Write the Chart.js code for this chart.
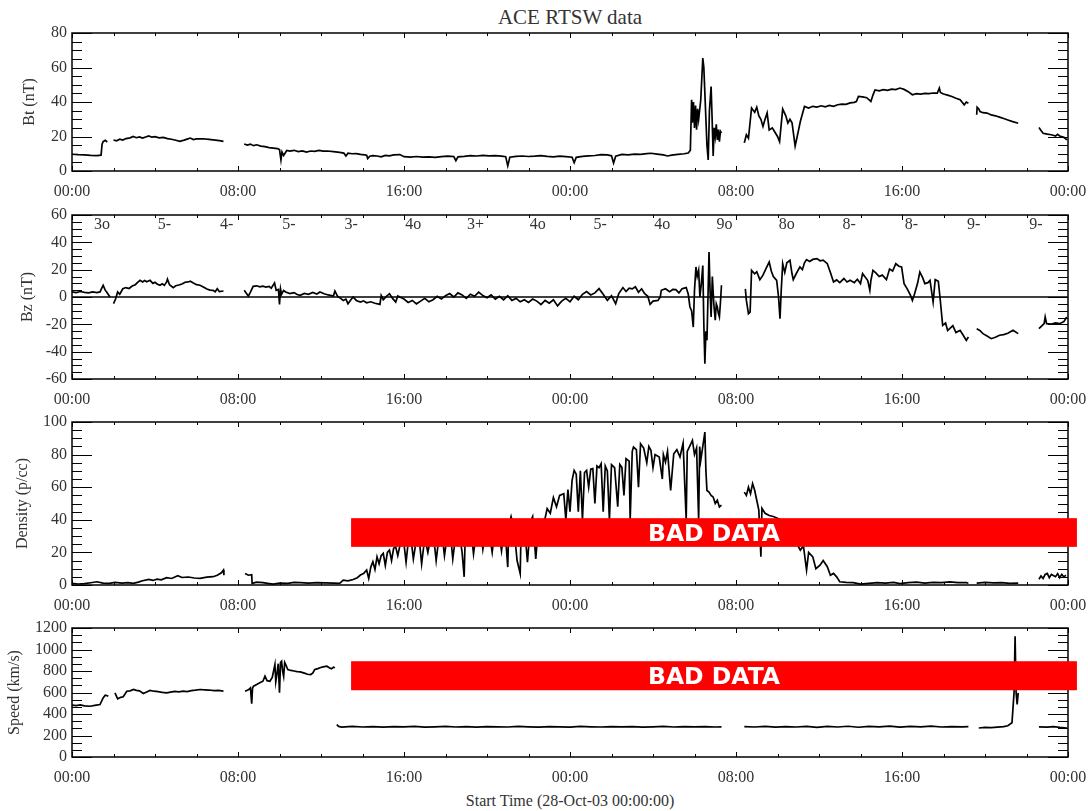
<!DOCTYPE html>
<html>
<head>
<meta charset="utf-8">
<title>ACE RTSW data</title>
<script src="https://cdn.jsdelivr.net/npm/chart.js@4.4.0/dist/chart.umd.min.js"></script>
<style>
  body { margin: 0; background: #fff; }
  #wrap { position: relative; width: 1088px; height: 811px; overflow: hidden; font-family: "Liberation Serif", serif; color: #333; }
  #wrap canvas { position: absolute; left: 0; }
  .txt { position: absolute; left: 370px; width: 400px; text-align: center; white-space: nowrap; }
  #title { top: 7px; font-size: 21px; line-height: 21px; }
  #xlab { top: 793px; font-size: 16px; line-height: 16px; }
</style>
</head>
<body>
<div id="wrap">
  <div class="txt" id="title">ACE RTSW data</div>
  <canvas id="bt" width="1088" height="205" style="top:0px"></canvas>
  <canvas id="bz" width="1088" height="205" style="top:205px"></canvas>
  <canvas id="den" width="1088" height="205" style="top:410px"></canvas>
  <canvas id="spd" width="1088" height="175" style="top:615px"></canvas>
  <div class="txt" id="xlab">Start Time (28-Oct-03 00:00:00)</div>
</div>
<script>
// x axis: hours since 28-Oct-03 00:00
var xTickHours = [0, 8, 16, 24, 32, 40, 48];
var xTickLabels = ['00:00', '08:00', '16:00', '00:00', '08:00', '16:00', '00:00'];

var btTicks = [0, 20, 40, 60, 80];
var bzTicks = [-60, -40, -20, 0, 20, 40, 60];
var denTicks = [0, 20, 40, 60, 80, 100];
var spdTicks = [0, 200, 400, 600, 800, 1000, 1200];

// Kp index, one per 3 hour interval
var kpLabels = ['3o', '5-', '4-', '5-', '3-', '4o', '3+', '4o', '5-', '4o', '9o', '8o', '8-', '8-', '9-', '9-'];

// Bt (nT)
var btHours = [
  0, 0.3, 0.6, 0.9, 1.2, 1.4, 1.45, 1.5, 1.6, 1.7,
  1.85, 2.0, 2.15, 2.3, 2.45, 2.6, 2.8, 2.95, 3.1, 3.25,
  3.4, 3.55, 3.7, 3.85, 4.0, 4.2, 4.4, 4.6, 4.8, 5.0,
  5.2, 5.4, 5.55, 5.7, 5.85, 6.0, 6.3, 6.6, 6.9, 7.1,
  7.3, 7.35, 8.3, 8.45, 8.6, 8.75, 8.9, 9.1, 9.3, 9.5,
  9.7, 9.9, 10.0, 10.07, 10.12, 10.2, 10.35, 10.5, 10.7, 10.9,
  11.1, 11.3, 11.5, 11.7, 11.9, 12.1, 12.3, 12.6, 12.9, 13.1,
  13.2, 13.3, 13.5, 13.7, 13.9, 14.1, 14.2, 14.25, 14.35, 14.5,
  14.7, 14.9, 15.1, 15.3, 15.5, 15.8, 16.0, 16.3, 16.6, 16.9,
  17.2, 17.5, 17.8, 18.1, 18.4, 18.5, 18.6, 18.9, 19.2, 19.5,
  19.8, 20.1, 20.4, 20.7, 20.9, 21.0, 21.1, 21.4, 21.7, 22.0,
  22.3, 22.6, 22.9, 23.2, 23.5, 23.8, 24.1, 24.2, 24.3, 24.6,
  24.9, 25.2, 25.5, 25.8, 26.0, 26.1, 26.2, 26.5, 26.8, 27.1,
  27.4, 27.7, 27.9, 28.2, 28.5, 28.7, 28.9, 29.2, 29.5, 29.7,
  29.8, 29.86, 29.9, 29.95, 30.0, 30.05, 30.1, 30.15, 30.2, 30.3,
  30.4, 30.45, 30.5, 30.55, 30.6, 30.66, 30.72, 30.8, 30.85, 30.9,
  30.95, 31.0, 31.05, 31.1, 31.15, 31.2, 31.25, 31.3, 31.32, 32.4,
  32.5, 32.6, 32.75, 32.9, 33.0, 33.1, 33.2, 33.3, 33.4, 33.5,
  33.6, 33.75, 33.9, 34.0, 34.1, 34.25, 34.4, 34.5, 34.6, 34.7,
  34.85, 34.95, 35.1, 35.3, 35.5, 35.7, 35.9, 36.1, 36.3, 36.5,
  36.7, 36.9, 37.1, 37.3, 37.5, 37.7, 37.8, 37.9, 38.1, 38.3,
  38.5, 38.6, 38.7, 38.9, 39.1, 39.3, 39.5, 39.7, 39.9, 40.1,
  40.3, 40.5, 40.7, 40.9, 41.1, 41.3, 41.5, 41.7, 41.8, 41.85,
  42.0, 42.2, 42.4, 42.6, 42.8, 43.0, 43.1, 43.2, 43.25, 43.6,
  43.62, 43.7, 43.76, 43.9, 44.1, 44.3, 44.5, 44.7, 44.9, 45.1,
  45.3, 45.6, 45.65, 46.6, 46.7, 46.8, 47.0, 47.2, 47.4, 47.5,
  47.6, 47.8, 47.95
];
var btValues = [
  9.7, 9.5, 9.4, 9.1, 8.9, 9.2, 15.5, 17.0, 17.8, 16.8,
  null, 18.0, 17.5, 18.4, 17.9, 18.8, 19.2, 20.0, 19.3, 19.8,
  19.1, 19.7, 20.3, 19.6, 19.9, 19.2, 19.5, 18.8, 18.4, 17.8,
  17.2, 17.9, 18.5, 19.1, 18.2, 18.6, 18.7, 18.3, 17.9, 17.6,
  17.2, null, 15.7, 15.0, 15.6, 14.7, 15.2, 14.4, 14.1, 13.6,
  13.3, 13.0, 12.4, 6.4, 11.0, 9.0, 11.9, 11.5, 12.0, 11.3,
  11.7, 11.0, 11.6, 11.4, 11.9, 11.5, 11.6, 11.2, 10.8, 10.4,
  8.7, 10.3, 10.0, 10.1, 9.6, 9.4, 9.1, 7.2, 8.6, 8.9,
  8.7, 8.2, 9.0, 8.8, 9.3, 9.5, 8.3, 8.0, 8.4, 8.1,
  8.2, 7.9, 8.3, 8.6, 8.4, 6.0, 8.2, 8.5, 8.9, 8.7,
  9.1, 8.8, 8.9, 8.6, 8.3, 3.0, 8.0, 8.5, 8.7, 8.4,
  8.6, 8.9, 8.5, 8.2, 8.6, 8.3, 8.0, 4.8, 7.9, 8.5,
  8.8, 9.0, 9.5, 9.3, 8.8, 4.6, 8.6, 9.6, 9.4, 9.8,
  9.6, 10.1, 10.3, 9.8, 9.3, 8.7, 9.2, 9.6, 10.0, 10.4,
  12.0, 41.3, 28, 40, 25, 38, 24, 36, 30, 41,
  65.5, 60, 45, 30, 15, 6.4, 35, 49, 30, 8.7,
  25, 20, 27, 18, 24, 17, 23, 22, null, 16.3,
  21, 19, 36.5, 34, 37.0, 32, 30, 25.8, 30, 33.7,
  23.8, 25, 22, 20, 17, 35.9, 32, 27.8, 30, 28,
  14.5, 20, 28.7, 37.4, 36.5, 37.5, 37.0, 37.8, 37.2, 38.0,
  37.5, 38.4, 38.8, 38.6, 39.5, 39.8, 40.3, 43.2, 43.0, 42.5,
  40.3, 44, 47.0, 46.5, 47.2, 46.8, 47.5, 47.2, 48.1, 47.3,
  46.0, 44.2, 44.8, 44.6, 45.0, 44.9, 45.2, 45.1, 48.1, 45.5,
  44.6, 44.0, 43.2, 42.2, 41.3, 38.4, 40.0, 39.3, null, 32.6,
  37, 36, 34.5, 33.8, 33.6, 32.5, 32.0, 31.2, 30.4, 29.6,
  28.8, 27.7, null, 25.2, 23.5, 21.9, 21.4, 21.0, 20.3, 21.3,
  20.3, 19.5, 18.0
];

// Bz (nT)
var bzHours = [
  0, 0.2, 0.4, 0.6, 0.8, 1.0, 1.2, 1.35, 1.5, 1.6,
  1.67, 1.83, 1.9, 2.0, 2.1, 2.2, 2.3, 2.45, 2.6, 2.75,
  2.9, 3.05, 3.15, 3.28, 3.4, 3.5, 3.6, 3.76, 3.9, 4.0,
  4.1, 4.24, 4.35, 4.45, 4.56, 4.6, 4.7, 4.88, 5.0, 5.15,
  5.3, 5.45, 5.6, 5.7, 5.85, 6.0, 6.17, 6.35, 6.5, 6.65,
  6.8, 6.9, 7.0, 7.1, 7.3, 7.35, 8.3, 8.4, 8.5, 8.6,
  8.73, 8.9, 9.05, 9.2, 9.35, 9.5, 9.6, 9.76, 9.84, 9.95,
  10.0, 10.05, 10.1, 10.2, 10.3, 10.5, 10.7, 10.85, 11.0, 11.2,
  11.4, 11.6, 11.8, 11.95, 12.15, 12.35, 12.6, 12.67, 12.8, 12.95,
  13.07, 13.2, 13.3, 13.45, 13.55, 13.7, 13.9, 14.05, 14.2, 14.4,
  14.6, 14.84, 14.9, 15.0, 15.15, 15.3, 15.45, 15.6, 15.7, 15.8,
  16.0, 16.2, 16.4, 16.6, 16.8, 17.0, 17.2, 17.4, 17.6, 17.8,
  18.0, 18.2, 18.4, 18.6, 18.8, 19.0, 19.2, 19.4, 19.6, 19.8,
  20.0, 20.2, 20.4, 20.6, 20.8, 21.0, 21.2, 21.4, 21.6, 21.8,
  22.0, 22.2, 22.4, 22.6, 22.8, 23.0, 23.2, 23.4, 23.6, 23.8,
  24.0, 24.2, 24.4, 24.6, 24.8, 25.0, 25.2, 25.4, 25.6, 25.8,
  26.0, 26.2, 26.35, 26.55, 26.7, 26.85, 27.0, 27.15, 27.3, 27.45,
  27.6, 27.75, 27.86, 28.0, 28.24, 28.35, 28.4, 28.6, 28.8, 28.95,
  29.1, 29.25, 29.4, 29.6, 29.7, 29.78, 29.86, 29.94, 30.0, 30.07,
  30.13, 30.2, 30.26, 30.33, 30.4, 30.45, 30.5, 30.55, 30.6, 30.65,
  30.7, 30.75, 30.8, 30.86, 30.93, 31.0, 31.05, 31.1, 31.15, 31.2,
  31.25, 31.3, 31.32, 32.45, 32.5, 32.6, 32.68, 32.75, 32.9, 33.0,
  33.15, 33.3, 33.45, 33.6, 33.7, 33.8, 33.96, 34.05, 34.12, 34.18,
  34.25, 34.35, 34.45, 34.6, 34.7, 34.76, 34.9, 35.08, 35.2, 35.3,
  35.4, 35.55, 35.7, 35.9, 36.05, 36.2, 36.4, 36.55, 36.7, 36.85,
  37.0, 37.2, 37.35, 37.5, 37.7, 37.85, 38.0, 38.1, 38.25, 38.35,
  38.45, 38.5, 38.6, 38.75, 38.9, 39.05, 39.25, 39.4, 39.55, 39.7,
  39.85, 39.98, 40.1, 40.25, 40.4, 40.5, 40.6, 40.75, 40.86, 41.0,
  41.1, 41.25, 41.35, 41.5, 41.6, 41.75, 41.83, 41.96, 42.1, 42.2,
  42.3, 42.45, 42.6, 42.8, 42.95, 43.1, 43.2, 43.25, 43.6, 43.75,
  43.9, 44.1, 44.3, 44.5, 44.7, 44.9, 45.1, 45.35, 45.6, 45.65,
  46.6, 46.75, 46.85, 46.9, 46.97, 47.2, 47.4, 47.6, 47.8, 47.94
];
var bzValues = [
  3.7, 3.2, 4.0, 3.4, 3.0, 3.8, 3.2, 3.7, 8.6, 5.0,
  3.7, 0, null, -4.9, -1.5, 3.7, 2.0, 6.0, 6.9, 6.2,
  8.0, 9.0, 10.5, 12.2, 11.0, 12.0, 11.2, 12.2, 10.0, 10.8,
  9.5, 8.6, 9.6, 8.5, 11.0, 13.0, 9.0, 6.9, 8.2, 8.8,
  9.5, 10.8, 11.0, 11.5, 10.2, 9.0, 8.6, 7.2, 5.8, 5.0,
  4.9, 3.8, 6.0, 4.0, 4.4, null, 4.9, 2.8, 0.7, 3.5,
  7.8, 8.2, 7.5, 8.0, 7.3, 7.8, 6.5, 10.3, 4.9, 5.5,
  -5.4, 5.9, 2.0, 4.8, 3.7, 2.5, 3.2, 1.8, 1.2, 2.6,
  2.0, 3.4, 2.2, 3.7, 2.4, 1.5, 0.7, 4.4, 0.5, -1.0,
  -2.5, -1.5, -4.9, -1.8, 0, -2.5, -3.7, -2.8, -4.2, -3.5,
  -4.6, -5.4, 1.2, -2.0, 0.5, 2.4, -1.0, -3.7, 0.8, 0,
  -1.5, -4.0, -2.5, -5.0, -3.0, -1.0, -3.5, -2.0, 0.5, -1.5,
  1.0, 2.5, 0.0, 3.0, 1.5, -1.0, 2.0, 0.5, 3.5, 1.0,
  -0.5, 1.5, -1.5, 0.5, -2.0, 1.0, -2.5, -1.0, -3.5, -2.0,
  -4.0, -1.5, -3.0, -5.5, -2.5, -4.5, -2.0, -6.5, -3.0, -1.0,
  -3.5, 0.5, -2.0, 2.0, 4.0, 1.5, 3.0, 6.1, 2.0, -2.5,
  1.0, -4.9, 2.5, 6.9, 4.0, 6.5, 5.9, 7.5, 3.5, 6.0,
  2.4, 0.5, -5.4, -3.0, -2.5, 0, 4.9, 6.0, 3.8, 5.5,
  5.4, 3.0, 6.0, 6.9, 2.0, -7.3, -10, -22, 5, 22,
  15, 19.5, 0, 10, 23, -20, -48.8, -25, -31.7, 0,
  33, 5, -14.6, 15, -5, -17, -5, -7.3, -12, -14.6,
  -4, 8.6, null, 5.9, -2.5, -12.2, -11, 19.5, 17, 18.5,
  12.7, 16, 21, 25.6, 19, 15, 12.2, 0, -15.9, 5,
  24.4, 18, 25, 26.8, 17, 12.7, 17, 22, 20, 25,
  27.4, 26, 27.5, 28.1, 26.5, 27.0, 24.4, 18, 11, 12.5,
  10.5, 13.5, 11.0, 12.2, 10.5, 13.0, 9.8, 17.1, 14.0, 12,
  4.9, 12, 19.5, 17.5, 15.0, 16.0, 12.7, 20.5, 19.0, 24.4,
  22.5, 22, 9.8, 6.0, 1.5, -2.5, 2.0, 10.0, 18.3, 14.0,
  9.8, 10.5, 12.2, -3.7, 12.7, 11.5, 0, -20.7, -19.0, -24.5,
  -23.2, -21.0, -26.0, -24.4, -28.0, -31.7, -29.3, null, -23.2, -24.5,
  -26.8, -28.5, -30.5, -29.5, -28.0, -27.5, -26.5, -24.4, -26.8, null,
  -23.2, -21.0, -19.5, -14.6, -19.5, -19.8, -19.0, -19.5, -18.0, -14.6
];
var zeroHours = [0, 48];
var zeroValues = [0, 0];

// Density (p/cc)
var denHours = [
  0, 0.3, 0.6, 0.9, 1.2, 1.5, 1.8, 2.07, 2.4, 2.7,
  2.95, 3.2, 3.4, 3.7, 3.9, 4.1, 4.3, 4.56, 4.8, 5.1,
  5.3, 5.6, 5.9, 6.17, 6.5, 6.8, 7.0, 7.2, 7.3, 7.32,
  7.35, 8.34, 8.5, 8.66, 8.68, 8.9, 9.2, 9.5, 9.7, 10.0,
  10.4, 10.7, 11.0, 11.4, 11.8, 12.2, 12.6, 12.9, 13.07, 13.3,
  13.55, 13.75, 13.9, 14.05, 14.2, 14.3, 14.4, 14.5, 14.6, 14.7,
  14.8, 14.9, 15.0, 15.1, 15.2, 15.3, 15.4, 15.5, 15.6, 15.7,
  15.8, 16.0, 16.1, 16.2, 16.35, 16.45, 16.6, 16.75, 16.85, 17.0,
  17.15, 17.3, 17.45, 17.55, 17.7, 17.85, 17.95, 18.1, 18.25, 18.35,
  18.5, 18.65, 18.8, 18.9, 18.95, 19.1, 19.25, 19.35, 19.5, 19.7,
  19.8, 19.95, 20.1, 20.25, 20.4, 20.55, 20.7, 20.85, 21.0, 21.05,
  21.16, 21.3, 21.45, 21.6, 21.65, 21.8, 21.95, 22.1, 22.2, 22.35,
  22.5, 22.65, 22.8, 22.9, 23.05, 23.2, 23.35, 23.5, 23.7, 23.8,
  23.9, 24.0, 24.1, 24.2, 24.3, 24.4, 24.5, 24.6, 24.7, 24.8,
  24.9, 25.0, 25.1, 25.2, 25.3, 25.4, 25.5, 25.6, 25.7, 25.8,
  25.9, 26.0, 26.15, 26.3, 26.4, 26.5, 26.6, 26.7, 26.85, 26.9,
  27.0, 27.06, 27.2, 27.3, 27.4, 27.55, 27.7, 27.8, 27.9, 28.0,
  28.1, 28.3, 28.45, 28.5, 28.6, 28.7, 28.85, 29.0, 29.15, 29.3,
  29.45, 29.6, 29.65, 29.8, 29.9, 30.0, 30.1, 30.2, 30.25, 30.3,
  30.4, 30.5, 30.55, 30.6, 30.7, 30.8, 30.9, 31.0, 31.1, 31.2,
  31.3, 31.32, 32.4, 32.5, 32.6, 32.7, 32.8, 32.9, 33.0, 33.1,
  33.2, 33.25, 33.4, 33.6, 33.8, 34.1, 34.3, 34.5, 34.7, 34.9,
  35.1, 35.25, 35.4, 35.5, 35.7, 35.85, 36.05, 36.2, 36.4, 36.55,
  36.7, 36.85, 37.0, 37.3, 37.65, 38.0, 38.4, 38.8, 39.2, 39.6,
  39.9, 40.3, 40.7, 41.1, 41.5, 41.9, 42.3, 42.7, 43.1, 43.2,
  43.25, 43.6, 44.0, 44.4, 44.8, 45.2, 45.6, 45.65, 46.6, 46.7,
  46.8, 46.9, 47.0, 47.1, 47.2, 47.4, 47.5, 47.6, 47.7, 47.8,
  47.9
];
var denValues = [
  1.0, 0.6, 0.8, 1.4, 2.0, 1.2, 1.0, 1.6, 1.2, 1.4,
  1.0, 1.8, 2.6, 3.4, 2.8, 3.6, 3.2, 4.5, 4.0, 5.7,
  4.6, 4.9, 4.3, 4.1, 4.8, 5.1, 6.0, 7.5, 9.2, 6.0,
  null, 7.1, 6.0, 6.3, 1.0, 1.8, 1.4, 0.9, 0.6, 1.2,
  1.0, 1.6, 1.4, 1.2, 1.5, 1.3, 1.2, 1.0, 3.0, 2.5,
  3.4, 4.5, 6.1, 7.0, 9.2, 4.0, 11.0, 14.3, 9.5, 17.3,
  13.0, 18.0, 19.4, 12.0, 20.0, 21.4, 15.0, 22.5, 23.4, 18.0,
  24.0, 25, 14, 26, 27, 16, 28, 26, 13, 29,
  20, 30, 27, 15, 31, 29, 18, 32, 30, 16,
  31, 33, 20, 5, 30, 33, 31, 19, 34, 33,
  22, 35, 33, 20, 36, 34, 21, 37, 11, 36,
  42, 35, 15, 7, 38, 37, 14, 39, 42, 16,
  40, 38, 41, 46.9, 44, 53.6, 48, 55, 56, 40,
  58.5, 45, 64.2, 70.3, 68, 45, 70, 40, 69, 70.3,
  60, 71, 71.4, 50, 73, 72, 74.4, 45, 73, 70,
  40, 73.8, 72, 48, 74, 72.2, 55, 77.5, 76, 40,
  82, 84.6, 83, 60, 86.7, 84, 75, 85, 82.6, 72,
  80, 78.5, 65, 80, 75.4, 82, 58, 80.5, 83, 78.5,
  87, 40, 82, 86, 88.7, 80, 84, 40, 85, 76.4,
  85, 93.8, 70, 58, 57, 55, 54, 50, 52, 47.9,
  49, null, 57, 55, 60, 56, 62.2, 58.1, 52, 45.9,
  17.3, 47, 44, 42.6, 42, 40.4, 38, 34, 30, 26,
  21.4, 24, 9.2, 20, 17.3, 10, 12.2, 15, 11.2, 6,
  7.1, 5, 2.0, 1.6, 1.4, 0.6, 1.0, 1.4, 1.2, 1.6,
  0.8, 1.4, 1.8, 1.2, 1.6, 1.4, 1.9, 1.5, 1.4, 1.1,
  null, 1.2, 1.6, 1.3, 1.5, 1.0, 1.2, null, 3.5, 5.5,
  4.0, 6.5, 7.1, 4.5, 6.5, 5.1, 7.0, 4.5, 6.5, 5.0,
  6.0
];

// Speed (km/s)
var spdHours = [
  0, 0.2, 0.4, 0.6, 0.87, 1.1, 1.35, 1.5, 1.6, 1.67,
  1.75, 1.8, 2.07, 2.2, 2.35, 2.47, 2.64, 2.8, 2.96, 3.1,
  3.25, 3.44, 3.6, 3.76, 3.95, 4.15, 4.35, 4.56, 4.75, 4.95,
  5.15, 5.36, 5.55, 5.75, 5.95, 6.17, 6.4, 6.6, 6.85, 7.05,
  7.3, 7.35, 8.34, 8.5, 8.6, 8.66, 8.7, 8.75, 8.9, 9.05,
  9.2, 9.3, 9.4, 9.54, 9.65, 9.78, 9.82, 9.86, 9.94, 10.0,
  10.05, 10.1, 10.15, 10.2, 10.25, 10.3, 10.4, 10.55, 10.7, 10.85,
  11.0, 11.2, 11.35, 11.5, 11.6, 11.7, 11.85, 11.95, 12.1, 12.28,
  12.4, 12.5, 12.6, 12.67, 12.7, 12.76, 12.85, 13.0, 13.5, 14.0,
  14.5, 15.0, 15.5, 16.0, 16.5, 17.0, 17.5, 18.0, 18.5, 19.0,
  19.5, 20.0, 20.5, 21.0, 21.5, 22.0, 22.5, 23.0, 23.5, 24.0,
  24.5, 25.0, 25.5, 26.0, 26.5, 27.0, 27.5, 28.0, 28.5, 29.0,
  29.5, 30.0, 30.5, 31.0, 31.3, 31.32, 32.4, 32.9, 33.4, 33.9,
  34.4, 34.9, 35.4, 35.9, 36.4, 36.9, 37.4, 37.9, 38.4, 38.9,
  39.4, 39.9, 40.4, 40.9, 41.4, 41.9, 42.4, 42.9, 43.2, 43.25,
  43.7, 44.0, 44.3, 44.6, 44.9, 45.1, 45.3, 45.4, 45.45, 45.5,
  45.55, 45.6, 45.65, 46.6, 47.0, 47.3, 47.6, 47.95
];
var spdValues = [
  482, 478, 485, 476, 472, 480, 488, 550, 575, 572,
  565, null, 597, 541, 555, 560, 612, 615, 628, 620,
  615, 590, 605, 619, 612, 608, 602, 597, 603, 610,
  606, 612, 609, 618, 622, 628, 625, 623, 618, 620,
  612, null, 612, 625, 643, 495, 640, 659, 675, 690,
  705, 752, 710, 705, 740, 860, 700, 750, 868, 597,
  880, 891, 800, 750, 880, 860, 814, 805, 800, 795,
  792, 780, 770, 767, 780, 814, 822, 830, 838, 845,
  830, 820, 835, 830, null, 302, 285, 278, 284, 279,
  283, 277, 282, 280, 284, 278, 281, 285, 279, 282,
  277, 283, 280, 279, 284, 281, 277, 283, 280, 278,
  284, 281, 279, 283, 280, 282, 278, 281, 284, 279,
  282, 280, 283, 279, 281, null, 282, 279, 284, 278,
  283, 279, 285, 276, 284, 279, 286, 277, 285, 280,
  287, 278, 284, 280, 288, 279, 283, 280, 282, null,
  270, 275, 273, 278, 282, 291, 318, 597, 1123, 597,
  488, 597, null, 281, 278, 283, 276, 270
];

var PLOT_L = 72, PLOT_R = 1068;
var TICK_COLOR = '#333';
var SERIF = '"Liberation Serif", "Times New Roman", serif';

function series(hours, values) {
  if (hours.length !== values.length) console.warn('length mismatch', hours.length, values.length);
  var out = [];
  for (var i = 0; i < hours.length; i++) out.push({ x: hours[i], y: values[i] });
  return out;
}

function lineSet(hours, values, width) {
  return {
    data: series(hours, values),
    borderColor: '#000',
    borderWidth: width || 1.7,
    pointRadius: 0,
    tension: 0,
    spanGaps: false
  };
}

// frame, inward ticks, axis title, Kp labels and the BAD DATA bar
function idlPlugin(cfg) {
  return {
    id: 'idl_' + cfg.id,
    afterDraw: function (chart) {
      var ctx = chart.ctx, a = chart.chartArea;
      var xs = chart.scales.x, ys = chart.scales.y;
      ctx.save();
      ctx.strokeStyle = '#000';
      ctx.lineWidth = 1;

      // y ticks on left and right
      for (var v = cfg.yMin; v <= cfg.yMax + 1e-6; v += cfg.minor) {
        var py = Math.round(ys.getPixelForValue(v)) + 0.5;
        var major = cfg.yTicks.some(function (t) { return Math.abs(t - v) < 1e-6; });
        var len = major ? 20 : 10;
        ctx.beginPath();
        ctx.moveTo(a.left, py); ctx.lineTo(a.left + len, py);
        ctx.moveTo(a.right, py); ctx.lineTo(a.right - len, py);
        ctx.stroke();
      }
      // x ticks on top and bottom, every 2 hours
      for (var h = 0; h <= 48; h += 2) {
        var px = Math.round(xs.getPixelForValue(h)) + 0.5;
        var tl = (h % 8 === 0) ? 5 : 3;
        ctx.beginPath();
        ctx.moveTo(px, a.top); ctx.lineTo(px, a.top + tl);
        ctx.moveTo(px, a.bottom); ctx.lineTo(px, a.bottom - tl);
        ctx.stroke();
      }
      // frame
      ctx.lineWidth = 1.5;
      ctx.strokeRect(a.left, a.top, a.right - a.left, a.bottom - a.top);

      // y title
      ctx.fillStyle = TICK_COLOR;
      ctx.font = '16px ' + SERIF;
      ctx.textAlign = 'center';
      ctx.textBaseline = 'middle';
      ctx.save();
      ctx.translate(cfg.titleX, (a.top + a.bottom) / 2);
      ctx.rotate(-Math.PI / 2);
      ctx.fillText(cfg.title, 0, 0);
      ctx.restore();

      // Kp labels
      if (cfg.kp) {
        for (var k = 0; k < cfg.kp.length; k++) {
          ctx.fillText(cfg.kp[k], xs.getPixelForValue(3 * k + 1.45), a.top + 10);
        }
      }

      // BAD DATA bar
      if (cfg.bad) {
        var x1 = xs.getPixelForValue(cfg.bad.x0), x2 = xs.getPixelForValue(cfg.bad.x1);
        var y1 = ys.getPixelForValue(cfg.bad.yTop), y2 = ys.getPixelForValue(cfg.bad.yBottom);
        ctx.fillStyle = '#ff0000';
        ctx.fillRect(x1, y1, x2 - x1, y2 - y1);
        ctx.fillStyle = '#fff';
        ctx.font = 'bold 23.5px "DejaVu Sans", sans-serif';
        ctx.fillText('BAD DATA', (x1 + x2) / 2, (y1 + y2) / 2 + 2);
      }
      ctx.restore();
    }
  };
}

// tick marks are kept invisible: they only space the labels from the axis
var hiddenGrid = function (len) {
  return { display: true, drawOnChartArea: false, drawTicks: true, tickLength: len, color: 'rgba(0,0,0,0)' };
};

function makePanel(cfg) {
  var canvas = document.getElementById(cfg.id);
  var H = canvas.height;
  return new Chart(canvas, {
    type: 'line',
    data: { datasets: cfg.datasets },
    options: {
      responsive: false,
      animation: false,
      events: [],
      layout: { padding: { left: 0, right: 1088 - PLOT_R, top: cfg.areaTop, bottom: 0 } },
      plugins: { legend: { display: false }, tooltip: { enabled: false }, title: { display: false } },
      scales: {
        x: {
          type: 'linear', min: 0, max: 48,
          border: { display: false },
          grid: hiddenGrid(11),
          afterBuildTicks: function (s) { s.ticks = xTickHours.map(function (v) { return { value: v }; }); },
          afterFit: function (s) { s.height = H - cfg.areaBottom; },
          ticks: {
            autoSkip: false, maxRotation: 0, padding: 0, color: TICK_COLOR,
            font: { family: SERIF, size: 16 },
            callback: function (v, i) { return xTickLabels[i]; }
          }
        },
        y: {
          type: 'linear', min: cfg.yMin, max: cfg.yMax,
          border: { display: false },
          grid: hiddenGrid(5),
          afterBuildTicks: function (s) { s.ticks = cfg.yTicks.map(function (v) { return { value: v }; }); },
          afterFit: function (s) { s.width = PLOT_L; },
          ticks: {
            autoSkip: false, padding: 0, color: TICK_COLOR,
            font: { family: SERIF, size: 16 },
            callback: function (v) { return String(v); }
          }
        }
      }
    },
    plugins: [idlPlugin(cfg)]
  });
}

makePanel({
  id: 'bt', areaTop: 33, areaBottom: 171,
  yMin: 0, yMax: 80, yTicks: btTicks, minor: 5,
  title: 'Bt (nT)', titleX: 30,
  datasets: [lineSet(btHours, btValues)]
});

makePanel({
  id: 'bz', areaTop: 10, areaBottom: 174,
  yMin: -60, yMax: 60, yTicks: bzTicks, minor: 5,
  title: 'Bz (nT)', titleX: 28, kp: kpLabels,
  datasets: [lineSet(bzHours, bzValues), lineSet(zeroHours, zeroValues, 1.5)]
});

makePanel({
  id: 'den', areaTop: 12, areaBottom: 175,
  yMin: 0, yMax: 100, yTicks: denTicks, minor: 5,
  title: 'Density (p/cc)', titleX: 23,
  bad: { x0: 13.45, x1: 48.43, yTop: 41, yBottom: 23.4 },
  datasets: [lineSet(denHours, denValues)]
});

makePanel({
  id: 'spd', areaTop: 13, areaBottom: 142,
  yMin: 0, yMax: 1200, yTicks: spdTicks, minor: 200 / 3,
  title: 'Speed (km/s)', titleX: 15,
  bad: { x0: 13.45, x1: 48.43, yTop: 891, yBottom: 621 },
  datasets: [lineSet(spdHours, spdValues)]
});
</script>
</body>
</html>
